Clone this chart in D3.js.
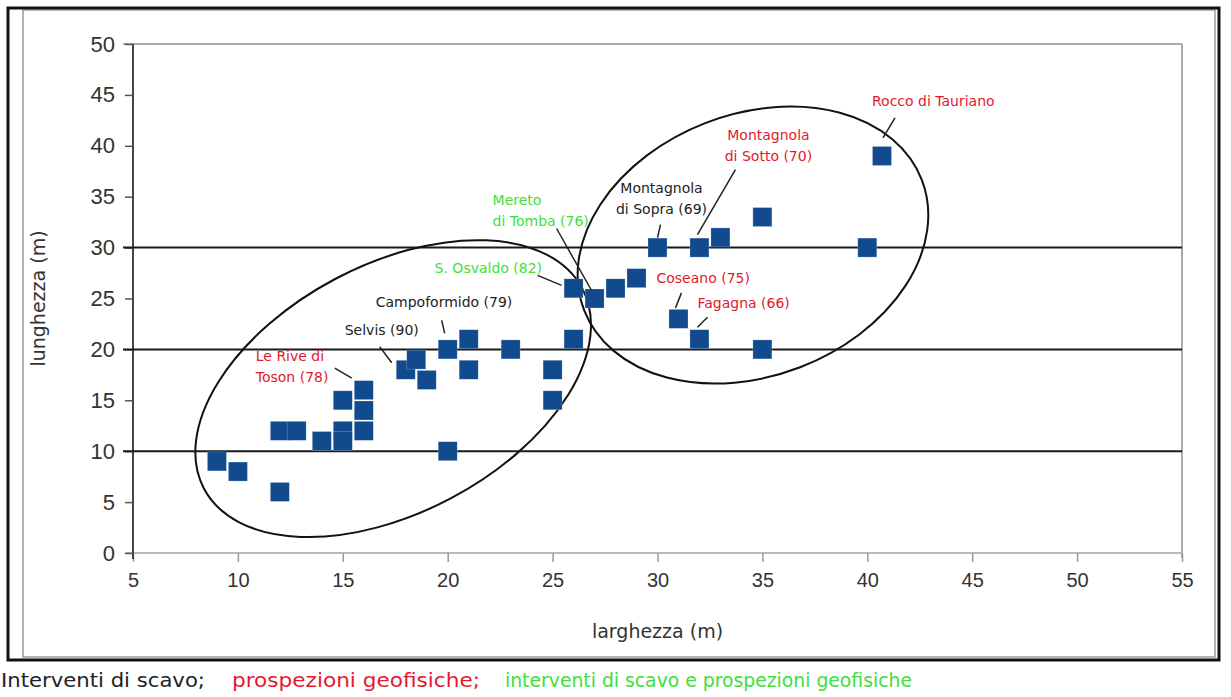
<!DOCTYPE html>
<html>
<head>
<meta charset="utf-8">
<script src="https://cdn.jsdelivr.net/npm/d3@7"></script>
<style>
  body { margin: 0; background: #fff; }
  svg { display: block; }
</style>
</head>
<body>
<div id="chart"></div>
<script>
// data
const larghezza = [9, 10, 12, 12, 12.8, 14, 15, 15, 15, 16, 16, 16, 18, 18.5, 19, 20, 21, 21, 20, 23, 25, 25, 26, 26, 27, 28, 29, 30, 32, 33, 31, 32, 35, 35, 40, 40.7]
const lunghezza = [9, 8, 6, 12, 12, 11, 15, 12, 11, 16, 14, 12, 18, 19, 17, 20, 21, 18, 10, 20, 18, 15, 26, 21, 25, 26, 27, 30, 30, 31, 23, 21, 33, 20, 30, 39]

const siteNames = [
    ["Rocco di Tauriano"],
    ["Montagnola", "di Sotto (70)"],
    ["Montagnola", "di Sopra (69)"],
    ["Mereto", "di Tomba (76)"],
    ["S. Osvaldo (82)"],
    ["Campoformido (79)"],
    ["Selvis (90)"],
    ["Le Rive di", "Toson (78)"],
    ["Coseano (75)"],
    ["Fagagna (66)"]
]
// 0 = scavo, 1 = prospezioni, 2 = scavo e prospezioni
const siteTypes = [1, 1, 0, 2, 2, 0, 0, 1, 1, 1]
const siteLarghezza = [40.7, 32, 30, 27, 26, 20, 18, 16, 31, 32]
const siteLunghezza = [39, 30, 30, 25, 26, 20, 18, 16, 23, 21]

const legendLabels = ["Interventi di scavo;", "prospezioni geofisiche;", "interventi di scavo e prospezioni geofisiche"]

const xTickValues = [5, 10, 15, 20, 25, 30, 35, 40, 45, 50, 55]
const yTickValues = [0, 5, 10, 15, 20, 25, 30, 35, 40, 45, 50]
const gridValues = [10, 20, 30]

const xTitle = "larghezza (m)"
const yTitle = "lunghezza (m)"

// layout
const typeColors = ["#222", "#e3182d", "#3ee03a"]
const markColor = "#114b8d"
const textFont = "DejaVu Sans, sans-serif"
const numFont = "Liberation Sans, Arial, sans-serif"

const dims = { width: 1231, height: 697, left: 133, right: 1182, top: 44, bottom: 553 }

// label offsets in px relative to the marker centre
const labelLayout = [
    { dx: -10, dy: -50, anchor: "start", lead: [13, -38, 1, -18] },
    { dx: 69, dy: -108, anchor: "middle", lead: [36, -78, -2, -13] },
    { dx: 4, dy: -55, anchor: "middle", lead: [3, -23, 0, -10] },
    { dx: -102, dy: -94, anchor: "start", lead: [-38, -70, -3, -8] },
    { dx: -139, dy: -15, anchor: "start", lead: [-36, -13, -12, -3] },
    { dx: -72, dy: -42, anchor: "start", lead: [-6, -29, -3, -16] },
    { dx: -61, dy: -35, anchor: "start", lead: [-26, -23, -14, -7] },
    { dx: -108, dy: -29, anchor: "start", lead: [-29, -22, -12, -12] },
    { dx: -22, dy: -36, anchor: "start", lead: [3, -26, -3, -11] },
    { dx: -2, dy: -31, anchor: "start", lead: [8, -22, -2, -12] }
]

// legend pieces: start x and width
const legendLayout = [{ x: 1, w: 204 }, { x: 232, w: 248 }, { x: 505, w: 407 }]

const ellipses = [
    { cx: 17.4, cy: 16.15, rx: 214, ry: 124, rot: -27.9 },
    { cx: 34.55, cy: 30.25, rx: 181, ry: 131, rot: -21.1 }
]

const svg = d3.select("#chart").append("svg")
    .attr("width", dims.width)
    .attr("height", dims.height)

// scales
const xScale = d3.scaleLinear().domain([5, 55]).range([dims.left, dims.right])
const yScale = d3.scaleLinear().domain([0, 50]).range([dims.bottom, dims.top])

// frames
svg.append("rect")
    .attr("x", 23).attr("y", 10)
    .attr("width", 1192).attr("height", 647)
    .attr("fill", "none").attr("stroke", "#9a9a9a").attr("stroke-width", 1.5)
svg.append("rect")
    .attr("x", 8).attr("y", 8)
    .attr("width", 1211).attr("height", 652)
    .attr("fill", "none").attr("stroke", "#111").attr("stroke-width", 3)

// plot border top / right
svg.append("line")
    .attr("x1", dims.left - 10).attr("x2", dims.right)
    .attr("y1", yScale(50)).attr("y2", yScale(50))
    .attr("stroke", "#aaa").attr("stroke-width", 2)
svg.append("line")
    .attr("x1", dims.right).attr("x2", dims.right)
    .attr("y1", yScale(50)).attr("y2", yScale(0) + 5)
    .attr("stroke", "#aaa").attr("stroke-width", 2)

// x axis
const xAxis = svg.append("g")
    .attr("transform", `translate(0,${yScale(0)})`)
    .call(d3.axisBottom(xScale).tickValues(xTickValues).tickSizeInner(9).tickSizeOuter(0).tickPadding(11))
xAxis.select(".domain").attr("stroke", "#bbb").attr("stroke-width", 2)
    .attr("d", `M${dims.left - 8},0H${dims.right}`)
xAxis.selectAll(".tick line").attr("stroke", "#999").attr("stroke-width", 1.5)
xAxis.selectAll(".tick text")
    .attr("fill", "#333").style("font-family", numFont).style("font-size", "20px")

// y axis
const yAxis = svg.append("g")
    .attr("transform", `translate(${dims.left},0)`)
    .call(d3.axisLeft(yScale).tickValues(yTickValues).tickSizeInner(8).tickSizeOuter(0).tickPadding(10))
yAxis.select(".domain").attr("stroke", "#444").attr("stroke-width", 2)
    .attr("d", `M0,${yScale(50)}V${yScale(0) + 6}`)
yAxis.selectAll(".tick line").attr("stroke", "#555").attr("stroke-width", 1.5)
yAxis.selectAll(".tick text")
    .attr("fill", "#333").style("font-family", numFont).style("font-size", "22px")

// grid lines
svg.append("g").selectAll("line")
    .data(gridValues).join("line")
    .attr("x1", dims.left - 10).attr("x2", dims.right)
    .attr("y1", d => yScale(d)).attr("y2", d => yScale(d))
    .attr("stroke", "#1a1a1a").attr("stroke-width", 2)

// axis titles
svg.append("text")
    .attr("x", (dims.left + dims.right) / 2).attr("y", 638)
    .attr("text-anchor", "middle")
    .attr("fill", "#333").style("font-family", textFont).style("font-size", "19px")
    .text(xTitle)
svg.append("text")
    .attr("transform", `translate(45,${(dims.top + dims.bottom) / 2}) rotate(-90)`)
    .attr("text-anchor", "middle")
    .attr("fill", "#333").style("font-family", textFont).style("font-size", "19px")
    .text(yTitle)

// ellipses
svg.append("g").selectAll("ellipse")
    .data(ellipses).join("ellipse")
    .attr("transform", d => `translate(${xScale(d.cx)},${yScale(d.cy)}) rotate(${d.rot})`)
    .attr("rx", d => d.rx).attr("ry", d => d.ry)
    .attr("fill", "none").attr("stroke", "#111").attr("stroke-width", 2)

// markers
const size = 19
const points = larghezza.map((v, i) => ({ x: v, y: lunghezza[i] }))
svg.append("g").selectAll("rect")
    .data(points).join("rect")
    .attr("x", d => xScale(d.x) - size / 2)
    .attr("y", d => yScale(d.y) - size / 2)
    .attr("width", size).attr("height", size)
    .attr("fill", markColor)
    .attr("stroke", "rgba(255,255,255,0.35)").attr("stroke-width", 0.6)

// site labels and leader lines
const sites = siteNames.map((lines, i) => ({
    lines,
    color: typeColors[siteTypes[i]],
    px: xScale(siteLarghezza[i]),
    py: yScale(siteLunghezza[i]),
    ...labelLayout[i]
}))

const labels = svg.append("g")
labels.selectAll("line")
    .data(sites).join("line")
    .attr("x1", d => d.px + d.lead[0]).attr("y1", d => d.py + d.lead[1])
    .attr("x2", d => d.px + d.lead[2]).attr("y2", d => d.py + d.lead[3])
    .attr("stroke", "#222").attr("stroke-width", 1.5)

labels.selectAll("text")
    .data(sites).join("text")
    .attr("x", d => d.px + d.dx)
    .attr("y", d => d.py + d.dy)
    .attr("text-anchor", d => d.anchor)
    .attr("fill", d => d.color)
    .style("font-family", textFont).style("font-size", "14px")
    .selectAll("tspan")
    .data(d => d.lines.map(l => ({ l, x: d.px + d.dx })))
    .join("tspan")
    .attr("x", t => t.x)
    .attr("dy", (t, i) => i === 0 ? 0 : 21)
    .text(t => t.l)

// legend below the frame
svg.append("g").selectAll("text")
    .data(legendLabels).join("text")
    .attr("x", (d, i) => legendLayout[i].x)
    .attr("y", 687)
    .attr("textLength", (d, i) => legendLayout[i].w)
    .attr("lengthAdjust", "spacingAndGlyphs")
    .attr("fill", (d, i) => typeColors[i])
    .style("font-family", textFont).style("font-size", "20px")
    .text(d => d)
</script>
</body>
</html>
